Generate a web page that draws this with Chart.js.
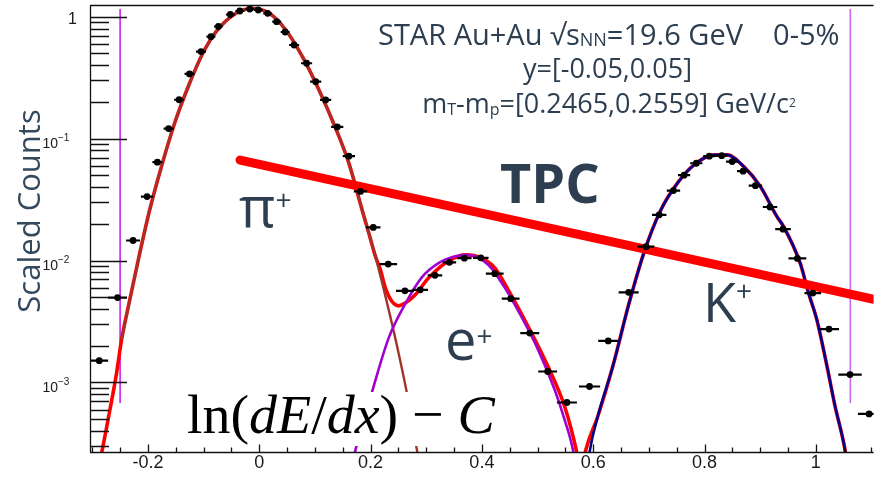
<!DOCTYPE html>
<html>
<head>
<meta charset="utf-8">
<script src="https://cdn.jsdelivr.net/npm/chart.js@4.4.1/dist/chart.umd.min.js"></script>
<style>
  html, body { margin: 0; padding: 0; background: #fff; overflow: hidden; }
  canvas { display: block; }
</style>
</head>
<body>
<canvas id="c" width="877" height="493" style="width:877px;height:493px"></canvas>
<script>
// ---- data ----
const binX = [-0.2875, -0.2546, -0.2267, -0.2016, -0.1830, -0.1628, -0.1440, -0.1252, -0.1047, -0.0868,
  -0.0733, -0.0519, -0.0349, -0.0170, -0.0018, 0.0152, 0.0313, 0.0465, 0.0626, 0.0850,
  0.1014, 0.1193, 0.1401, 0.1610, 0.1819, 0.2048, 0.2317, 0.2617, 0.2893, 0.3157,
  0.3417, 0.3685, 0.3980, 0.4231, 0.4517, 0.4860, 0.5182, 0.5528, 0.5934, 0.6270,
  0.6637, 0.6950, 0.7186, 0.7442, 0.7633, 0.7853, 0.8086, 0.8309, 0.8497, 0.8694,
  0.8914, 0.9177, 0.9410, 0.9669, 0.9946, 1.0236, 1.0614, 1.0957];
const binHalfWidth = [0.016, 0.017, 0.0125, 0.011, 0.009, 0.009, 0.009, 0.009, 0.009, 0.008,
  0.008, 0.008, 0.008, 0.008, 0.008, 0.008, 0.008, 0.008, 0.009, 0.010,
  0.010, 0.010, 0.011, 0.011, 0.012, 0.013, 0.016, 0.016, 0.014, 0.013,
  0.012, 0.013, 0.014, 0.016, 0.016, 0.017, 0.017, 0.018, 0.019, 0.018,
  0.018, 0.015, 0.013, 0.012, 0.011, 0.011, 0.011, 0.011, 0.011, 0.011,
  0.012, 0.013, 0.014, 0.016, 0.015, 0.018, 0.021, 0.020];
const counts = [1.51e-3, 4.97e-3, 0.0146, 0.0335, 0.0641, 0.1208, 0.2084, 0.339, 0.517, 0.686,
  0.831, 1.042, 1.113, 1.156, 1.135, 1.066, 0.910, 0.749, 0.586, 0.415,
  0.293, 0.2076, 0.1247, 0.0718, 0.0369, 0.0187, 0.00936, 0.00565, 0.00575, 0.00757,
  0.00967, 0.01046, 0.01052, 0.00781, 0.00487, 0.00254, 0.00123, 6.85e-4, 9.27e-4, 0.00219,
  0.00549, 0.0130, 0.0237, 0.0375, 0.0501, 0.0628, 0.0718, 0.0724, 0.0648, 0.0541,
  0.0411, 0.0275, 0.0181, 0.0104, 0.00541, 0.00274, 0.00116, 5.52e-4];

// fit curves
const totalX = [-0.2916, -0.2832, -0.2683, -0.2564, -0.2474, -0.2326, -0.2147, -0.1968, -0.1758, -0.1521,
  -0.1252, -0.1014, -0.0775, -0.0417, -0.0125, 0.0179, 0.0477, 0.0775, 0.1073, 0.1372,
  0.1610, 0.1848, 0.1968, 0.2088, 0.2177, 0.2267, 0.2385, 0.2504, 0.2624, 0.2803,
  0.3041, 0.3340, 0.3698, 0.3995, 0.4234, 0.4472, 0.4830, 0.5188, 0.5487, 0.5694,
  0.5778, 0.5868, 0.6082, 0.6351, 0.6646, 0.6918, 0.7215, 0.7513, 0.7812, 0.8170,
  0.8408, 0.8707, 0.9004, 0.9302, 0.9421, 0.9719, 0.9869, 1.0018, 1.0202, 1.0340,
  1.0524, 1.0590];
const totalY = [1.75e-4, 2.64e-4, 5.97e-4, 1.19e-3, 2.24e-3, 4.77e-3, 0.0115, 0.0261, 0.0589, 0.1337,
  0.2844, 0.501, 0.754, 1.066, 1.167, 1.066, 0.778, 0.470, 0.2506, 0.1217,
  0.0629, 0.0260, 0.0168, 0.01078, 8.39e-3, 5.94e-3, 4.61e-3, 4.25e-3, 4.48e-3, 5.24e-3,
  7.18e-3, 9.52e-3, 0.01114, 0.01047, 8.67e-3, 5.75e-3, 2.88e-3, 1.35e-3, 6.36e-4, 2.81e-4,
  1.75e-4, 2.81e-4, 5.26e-4, 1.35e-3, 4.50e-3, 0.01185, 0.0260, 0.0431, 0.0608, 0.0735,
  0.0735, 0.0589, 0.0404, 0.0229, 0.0190, 9.52e-3, 5.41e-3, 3.27e-3, 1.35e-3, 6.56e-4,
  2.81e-4, 1.75e-4];
const pionX = [-0.2474, -0.2326, -0.2147, -0.1968, -0.1758, -0.1521, -0.1252, -0.1014, -0.0775, -0.0417,
  -0.0125, 0.0179, 0.0477, 0.0775, 0.1073, 0.1372, 0.1610, 0.1848, 0.2088, 0.2326,
  0.2504, 0.2653, 0.2832, 0.3000];
const pionY = [2.24e-3, 4.77e-3, 0.0115, 0.0261, 0.0589, 0.1337, 0.2844, 0.501, 0.754, 1.066,
  1.167, 1.066, 0.778, 0.470, 0.2506, 0.1217, 0.0629, 0.0260, 0.01078, 3.94e-3,
  1.74e-3, 8.18e-4, 2.81e-4, 1.2e-4];
const elecX = [0.1610, 0.1730, 0.2027, 0.2326, 0.2624, 0.2921, 0.3220, 0.3488, 0.3726, 0.4114,
  0.4413, 0.4710, 0.5009, 0.5308, 0.5487, 0.5635, 0.5707];
const elecY = [1.6e-4, 2.81e-4, 8.39e-4, 2.32e-3, 4.42e-3, 7.28e-3, 9.52e-3, 0.01072, 0.01114, 9.23e-3,
  5.97e-3, 3.46e-3, 1.86e-3, 8.71e-4, 4.94e-4, 2.81e-4, 1.75e-4];
const kaonX = [0.5886, 0.5939, 0.6082, 0.6351, 0.6646, 0.6918, 0.7215, 0.7513, 0.7812, 0.8170,
  0.8408, 0.8707, 0.9004, 0.9302, 0.9421, 0.9719, 0.9869, 1.0018, 1.0202, 1.0340,
  1.0524, 1.0590];
const kaonY = [1.75e-4, 2.75e-4, 5.26e-4, 1.35e-3, 4.50e-3, 0.01185, 0.0260, 0.0431, 0.0608, 0.0735,
  0.0735, 0.0589, 0.0404, 0.0229, 0.0190, 9.52e-3, 5.41e-3, 3.27e-3, 1.35e-3, 6.56e-4,
  2.81e-4, 1.75e-4];

// fit range markers and the TPC band line
const cutX = [-0.25, 1.062];
const cutY = [1.156, 6.78e-4];
const tpcX = [-0.0345, 1.12];
const tpcY = [0.0667, 4.63e-3];

// axis ranges and tick labels
const X_MIN = -0.3041, X_MAX = 1.1038;
const Y_MIN = 2.69e-4, Y_MAX = 1.247;
const xTickValues = [-0.2, 0, 0.2, 0.4, 0.6, 0.8, 1];
const xTickLabels = ["-0.2", "0", "0.2", "0.4", "0.6", "0.8", "1"];
const yTickValues = [1, 0.1, 0.01, 0.001];
const yTickExp = ["", "\u22121", "\u22122", "\u22123"];

const TEXT = "#2c3e50";
const pts = (xs, ys) => xs.map((v, i) => ({ x: v, y: ys[i] }));

// draw a row of text runs: [text, font, dy]
function drawRuns(ctx, x, y, runs, align) {
  let w = 0;
  runs.forEach(r => { ctx.font = r[1]; w += ctx.measureText(r[0]).width; });
  let cx = align === "center" ? x - w / 2 : x;
  ctx.textAlign = "left";
  ctx.textBaseline = "alphabetic";
  runs.forEach(r => {
    ctx.font = r[1];
    ctx.fillText(r[0], cx, y + (r[2] || 0));
    cx += ctx.measureText(r[0]).width;
  });
}

function drawFormula(ctx) {
  const parts = [["ln(", false], ["dE", true], ["/", false], ["dx", true], [")", false], [" \u2212 ", false], ["C", true]];
  const font = (s, it) => (it ? "italic " : "") + s + 'px "Liberation Serif"';
  let w = 0;
  parts.forEach(p => { ctx.font = font(50, p[1]); w += ctx.measureText(p[0]).width; });
  const size = 50 * 308 / w;
  ctx.save();
  ctx.fillStyle = "#fff";
  ctx.fillRect(183, 392, 317, 54);
  ctx.fillStyle = "#000";
  ctx.textBaseline = "alphabetic";
  let cx = 187;
  parts.forEach(p => {
    ctx.font = font(size, p[1]);
    ctx.fillText(p[0], cx, 433);
    cx += ctx.measureText(p[0]).width;
  });
  ctx.restore();
}

const errorBars = {
  id: "errorBars",
  beforeDatasetDraw(chart, args) {
    if (args.index !== 0) return;
    const { ctx, chartArea: a, scales: { x, y } } = chart;
    ctx.save();
    ctx.beginPath();
    ctx.rect(a.left, a.top, a.right - a.left, a.bottom - a.top);
    ctx.clip();
    ctx.strokeStyle = "#000";
    ctx.lineWidth = 2.2;
    ctx.beginPath();
    binX.forEach((v, i) => {
      const py = y.getPixelForValue(counts[i]);
      ctx.moveTo(x.getPixelForValue(v - binHalfWidth[i]), py);
      ctx.lineTo(x.getPixelForValue(v + binHalfWidth[i]), py);
    });
    ctx.stroke();
    ctx.restore();
  }
};

const rootAxes = {
  id: "rootAxes",
  afterDatasetsDraw(chart) {
    const { ctx, chartArea: a, scales: { x, y } } = chart;
    drawFormula(ctx);
    ctx.save();
    ctx.strokeStyle = "#111";
    ctx.lineWidth = 1.3;
    ctx.beginPath();
    ctx.moveTo(a.left + 0.5, a.top); ctx.lineTo(a.left + 0.5, a.bottom);
    ctx.moveTo(a.left, a.bottom + 0.5); ctx.lineTo(a.right, a.bottom + 0.5);
    ctx.moveTo(a.left, a.top + 0.5); ctx.lineTo(a.right, a.top + 0.5);
    for (let k = -6; k <= 22; k++) {
      const v = k * 0.05;
      if (v < X_MIN || v > X_MAX) continue;
      const px = Math.round(x.getPixelForValue(v)) + 0.5;
      ctx.moveTo(px, a.bottom);
      ctx.lineTo(px, a.bottom - (k % 4 === 0 ? 7.5 : 4.5));
    }
    for (let e = -4; e <= 0; e++) {
      for (let m = 1; m <= 9; m++) {
        const v = m * Math.pow(10, e);
        if (v < Y_MIN || v > Y_MAX) continue;
        const py = Math.round(y.getPixelForValue(v)) + 0.5;
        ctx.moveTo(a.left, py);
        ctx.lineTo(a.left + (m === 1 ? 37 : 19), py);
      }
    }
    ctx.stroke();

    // tick labels
    ctx.fillStyle = "#1a1a1a";
    ctx.textBaseline = "middle";
    ctx.font = '18px "Liberation Sans"';
    ctx.textAlign = "center";
    xTickValues.forEach((v, i) => ctx.fillText(xTickLabels[i], x.getPixelForValue(v), 463));
    yTickValues.forEach((v, i) => {
      const py = y.getPixelForValue(v);
      if (!yTickExp[i]) {
        ctx.font = '16px "Liberation Sans"';
        ctx.textAlign = "right";
        ctx.fillText("1", 77, py + 2.5);
      } else {
        ctx.font = '14px "Liberation Sans"';
        ctx.textAlign = "right";
        ctx.fillText("10", 58, py + 6);
        ctx.font = '10px "Liberation Sans"';
        ctx.textAlign = "left";
        ctx.fillText(yTickExp[i], 58, py);
      }
    });
    ctx.restore();
  },
  afterDraw(chart) {
    const ctx = chart.ctx;
    ctx.save();
    ctx.fillStyle = TEXT;
    const f = s => s + 'px "Open Sans"';
    drawRuns(ctx, 378, 44.5, [["STAR Au+Au \u221As", f(29)], ["NN", f(18), 1], ["=19.6 GeV    0-5%", f(29)]], "left");
    drawRuns(ctx, 607.5, 78, [["y=[-0.05,0.05]", f(27)]], "center");
    drawRuns(ctx, 609, 113, [["m", f(27)], ["T", f(16), 2], ["-m", f(27)], ["p", f(16), 2],
      ["=[0.2465,0.2559] GeV/c", f(27)], ["2", f(12), -6]], "center");
    ctx.font = 'bold 54px "Open Sans"';
    ctx.textAlign = "left";
    ctx.textBaseline = "alphabetic";
    ctx.fillText("TPC", 500, 203);
    drawRuns(ctx, 239, 226.5, [["\u03C0", f(56)], ["+", f(28), -17]], "left");
    drawRuns(ctx, 445, 360, [["e", f(56)], ["+", f(28), -14]], "left");
    drawRuns(ctx, 703, 321.5, [["K", f(54)], ["+", f(28), -21]], "left");
    // y axis title
    ctx.translate(40, 211);
    ctx.rotate(-Math.PI / 2);
    ctx.textAlign = "center";
    ctx.fillStyle = "#34495e";
    ctx.font = f(31);
    ctx.fillText("Scaled Counts", 0, 0);
    ctx.restore();
  }
};

const line = (data, color, width, order) => ({
  data, showLine: true, borderColor: color, borderWidth: width, pointRadius: 0,
  cubicInterpolationMode: "monotone", fill: false, clip: 0, order
});

async function init() {
  try {
    await Promise.all([
      document.fonts.load('27px "Open Sans"'),
      document.fonts.load('bold 54px "Open Sans"'),
      document.fonts.load('18px "Liberation Sans"'),
      document.fonts.load('50px "Liberation Serif"'),
      document.fonts.load('italic 50px "Liberation Serif"')
    ]);
  } catch (e) {}

  new Chart(document.getElementById("c"), {
    type: "scatter",
    data: {
      datasets: [
        { data: pts(binX, counts), backgroundColor: "#000", borderColor: "#000", pointRadius: 3.4,
          pointHoverRadius: 3.4, borderWidth: 0, order: 0 },
        Object.assign(line(pts(tpcX, tpcY), "#ff0000", 9, 1), { borderCapStyle: "round", cubicInterpolationMode: "default" }),
        line(pts(kaonX, kaonY), "#00008f", 2.6, 2),
        line(pts(elecX, elecY), "#a000d0", 2.6, 3),
        line(pts(pionX, pionY), "#a0342c", 2.4, 4),
        line(pts(totalX, totalY), "#ff0000", 3.6, 5),
        line([{ x: cutX[0], y: cutY[0] }, { x: cutX[0], y: cutY[1] }], "#cc22ee", 1.6, 6),
        line([{ x: cutX[1], y: cutY[0] }, { x: cutX[1], y: cutY[1] }], "#cc66ee", 1.6, 6)
      ]
    },
    options: {
      responsive: false,
      animation: false,
      layout: { padding: { top: 5, left: 0, right: 0, bottom: 0 } },
      plugins: { legend: { display: false }, tooltip: { enabled: false } },
      scales: {
        x: {
          type: "linear", min: X_MIN, max: X_MAX,
          grid: { display: false }, border: { display: false }, ticks: { display: false },
          afterFit: s => { s.height = 41; }
        },
        y: {
          type: "logarithmic", min: Y_MIN, max: Y_MAX,
          grid: { display: false }, border: { display: false }, ticks: { display: false },
          afterFit: s => { s.width = 90; }
        }
      }
    },
    plugins: [errorBars, rootAxes]
  });
}
init();
</script>
</body>
</html>
